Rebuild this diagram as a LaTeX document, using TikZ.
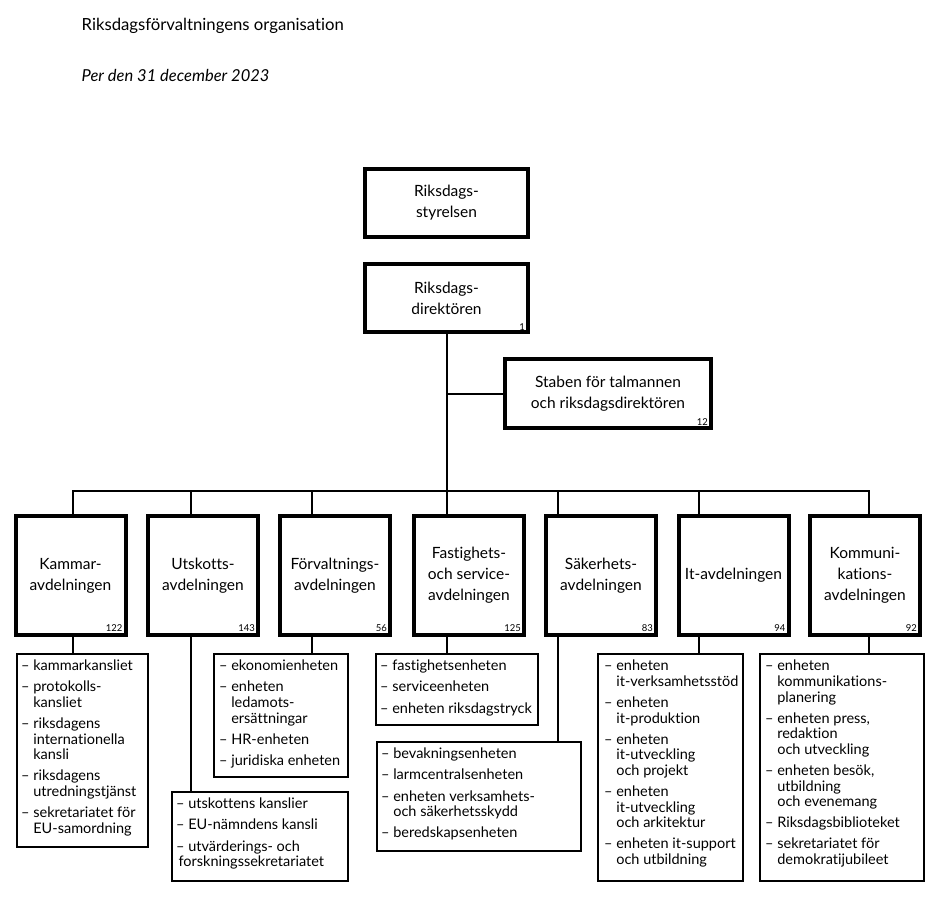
\documentclass[tikz,border=0pt]{standalone}
\usepackage{fontspec}
\setmainfont{Lato}[Ligatures=NoCommon]
\newcommand\myind{\hphantom{– }}
\tikzset{
  topbox/.style={draw, line width=4pt, inner sep=0pt, align=center, font=\fontsize{15.5}{21}\selectfont},
  mainbox/.style={topbox, minimum width=110pt, minimum height=119pt},
  listbox/.style={draw, line width=1.3pt, inner sep=0pt, outer sep=0pt, anchor=north west},
  listtext/.style={anchor=north west, align=left, inner sep=0pt, font=\fontsize{14.5}{15.6}\selectfont},
  conn/.style={line width=2pt},
  num/.style={anchor=base east, inner sep=0pt, font=\fontsize{9.5}{11}\selectfont},
}
\begin{document}
\begin{tikzpicture}[x=1pt,y=-1pt]
\useasboundingbox (0,0) rectangle (943,902);
% titles
\node[anchor=base west, inner sep=0pt, font=\fontsize{16.7}{20}\selectfont] (title) at (81.5,30.7) {Riksdagsförvaltningens organisation};
\node[anchor=base west, inner sep=0pt, font=\fontsize{16.5}{20}\selectfont\itshape] (date) at (81.5,81.7) {Per den 31 december 2023};
% top boxes
\node[topbox, minimum width=163pt, minimum height=68pt] (styr) at (446.5,203) {Riksdags-\\styrelsen};
\node[topbox, minimum width=163pt, minimum height=68pt] (dir) at (446.5,298) {Riksdags-\\direktören};
\node[num] at ([shift={(-5,-4)}]dir.south east) {1};
\node[topbox, minimum width=206pt, minimum height=69pt] (stab) at (608,393.5) {Staben för talmannen\\och riksdagsdirektören};
\node[num] at ([shift={(-5,-5)}]stab.south east) {12};
% departments
\node[mainbox] (kam) at (70.5,575.5) {Kammar-\\avdelningen};
\node[mainbox] (uts) at (203,575.5) {Utskotts-\\avdelningen};
\node[mainbox] (forv) at (335,575.5) {Förvaltnings-\\avdelningen};
\node[mainbox] (fast) at (469,575.5) {Fastighets-\\och service-\\avdelningen};
\node[mainbox] (sak) at (601,575.5) {Säkerhets-\\avdelningen};
\node[mainbox] (it) at (733.5,575.5) {It-avdelningen};
\node[mainbox] (kom) at (865,575.5) {Kommuni-\\kations-\\avdelningen};
\foreach \n/\v in {kam/122,uts/143,forv/56,fast/125,sak/83,it/94,kom/92}
  \node[num] at ([shift={(-5,-6)}]\n.south east) {\v};
% list boxes
\node[listbox, minimum width=131pt, minimum height=193pt] (kl) at (17,654) {};
\node[listbox, minimum width=134pt, minimum height=123pt] (fl) at (214,654) {};
\node[listbox, minimum width=176pt, minimum height=89pt] (ul) at (172,792) {};
\node[listbox, minimum width=162pt, minimum height=71pt] (fal) at (376,654) {};
\node[listbox, minimum width=204pt, minimum height=109pt] (sl) at (377,742) {};
\node[listbox, minimum width=145pt, minimum height=227pt] (il) at (598,654) {};
\node[listbox, minimum width=164pt, minimum height=227pt] (kml) at (760,654) {};
% list texts
\node[listtext] at ([shift={(4,6)}]kl.north west) {– kammarkansliet\\[5.5pt]– protokolls-\\\myind kansliet\\[5.5pt]– riksdagens\\\myind internationella\\\myind kansli\\[5.5pt]– riksdagens\\\myind utredningstjänst\\[5.5pt]– sekretariatet för\\\myind EU-samordning};
\node[listtext] at ([shift={(5,6)}]fl.north west) {– ekonomienheten\\[5.5pt]– enheten\\\myind ledamots-\\\myind ersättningar\\[5.5pt]– HR-enheten\\[5.5pt]– juridiska enheten};
\node[listtext] at ([shift={(4,6)}]ul.north west) {– utskottens kanslier\\[5.5pt]– EU-nämndens kansli\\[5.5pt]– utvärderings- och\\\,forskningssekretariatet};
\node[listtext] at ([shift={(4,6)}]fal.north west) {– fastighetsenheten\\[5.5pt]– serviceenheten\\[5.5pt]– enheten riksdagstryck};
\node[listtext] at ([shift={(4,6)}]sl.north west) {– bevakningsenheten\\[5.5pt]– larmcentralsenheten\\[5.5pt]– enheten verksamhets-\\\myind och säkerhetsskydd\\[5.5pt]– beredskapsenheten};
\node[listtext] at ([shift={(6,6)}]il.north west) {– enheten\\\myind it-verksamhetsstöd\\[5.5pt]– enheten\\\myind it-produktion\\[5.5pt]– enheten\\\myind it-utveckling\\\myind och projekt\\[5.5pt]– enheten\\\myind it-utveckling\\\myind och arkitektur\\[5.5pt]– enheten it-support\\\myind och utbildning};
\node[listtext] at ([shift={(5,6)}]kml.north west) {– enheten\\\myind kommunikations-\\\myind planering\\[5.5pt]– enheten press,\\\myind redaktion\\\myind och utveckling\\[5.5pt]– enheten besök,\\\myind utbildning\\\myind och evenemang\\[5.5pt]– Riksdagsbiblioteket\\[5.5pt]– sekretariatet för\\\myind demokratijubileet};
% connectors
\coordinate (d1) at (73,491);
\coordinate (d2) at (191,491);
\coordinate (d3) at (312,491);
\coordinate (d4) at (446.5,491);
\coordinate (d5) at (558,491);
\coordinate (d6) at (699,491);
\coordinate (d7) at (869,491);
\draw[conn] ([xshift=-1pt]d1) -- ([xshift=1pt]d7);
\draw[conn] (dir.south) -- (dir.south |- fast.north);
\draw[conn] (dir.south |- stab.west) -- (stab.west);
\foreach \d/\b/\l in {d1/kam/kl, d2/uts/ul, d3/forv/fl, d4/fast/fal, d5/sak/sl, d6/it/il, d7/kom/kml}{
  \draw[conn] (\d) -- (\d |- \b.north);
  \draw[conn] (\d |- \b.south) -- (\d |- \l.north);
}
\end{tikzpicture}
\end{document}
